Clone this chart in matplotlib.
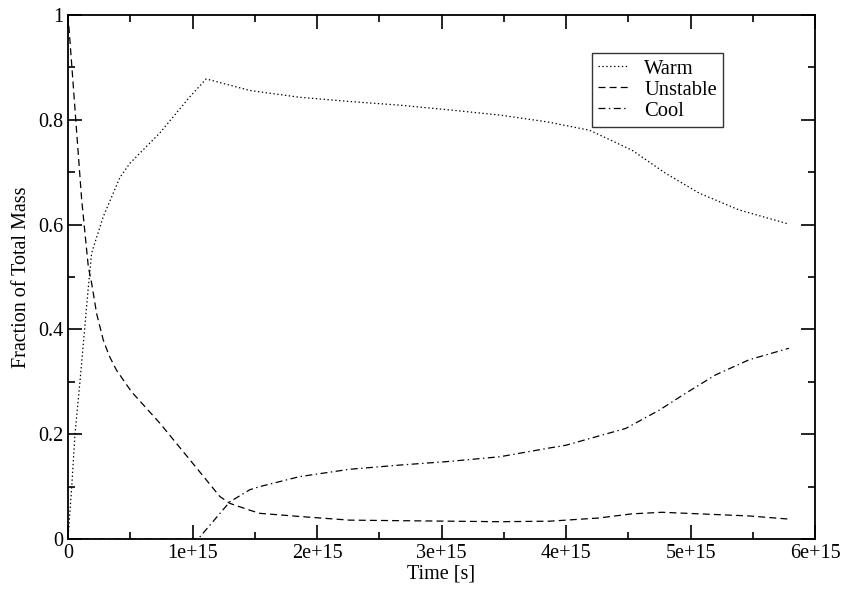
import matplotlib

matplotlib.use("Agg")
import matplotlib.pyplot as plt
from matplotlib.ticker import FixedLocator, MultipleLocator

# time in units of 1e15 s
warm_t = [0.0, 0.03, 0.056, 0.096, 0.163, 0.19, 0.283, 0.417, 0.497, 0.738, 0.979,
          1.11, 1.46, 1.86, 2.26, 2.66, 3.06, 3.47, 3.85, 4.19, 4.53, 4.80, 5.07,
          5.39, 5.79]
warm_f = [0.0, 0.10, 0.20, 0.30, 0.48, 0.546, 0.615, 0.69, 0.717, 0.775, 0.844,
          0.878, 0.856, 0.843, 0.835, 0.828, 0.819, 0.809, 0.796, 0.78, 0.742,
          0.698, 0.66, 0.628, 0.601]

unstable_t = [0.0, 0.043, 0.07, 0.11, 0.163, 0.19, 0.23, 0.283, 0.33, 0.39, 0.51,
              0.738, 1.0, 1.22, 1.30, 1.46, 1.54, 1.86, 2.26, 3.06, 3.47, 3.87, 4.0,
              4.26, 4.53, 4.77, 5.07, 5.47, 5.79]
unstable_f = [1.0, 0.863, 0.775, 0.647, 0.52, 0.488, 0.43, 0.38, 0.35, 0.322, 0.281,
              0.221, 0.145, 0.081, 0.068, 0.055, 0.049, 0.043, 0.036, 0.034, 0.033,
              0.034, 0.036, 0.040, 0.048, 0.051, 0.048, 0.044, 0.038]

cool_t = [0.0, 0.5, 1.045, 1.30, 1.46, 1.54, 1.86, 2.26, 2.66, 3.06, 3.47, 3.85,
          4.0, 4.48, 4.75, 4.94, 5.20, 5.47, 5.79]
cool_f = [0.0, 0.0, 0.0, 0.071, 0.094, 0.10, 0.119, 0.133, 0.141, 0.148, 0.157,
          0.173, 0.179, 0.211, 0.246, 0.275, 0.313, 0.342, 0.364]

x_ticks = [0, 1, 2, 3, 4, 5, 6]
x_tick_labels = ["0", "1e+15", "2e+15", "3e+15", "4e+15", "5e+15", "6e+15"]
y_ticks = [0, 0.2, 0.4, 0.6, 0.8, 1.0]
y_tick_labels = ["0", "0.2", "0.4", "0.6", "0.8", "1"]

plt.rcParams["font.family"] = ["Liberation Serif", "DejaVu Serif"]
plt.rcParams["lines.scale_dashes"] = False

fig = plt.figure(figsize=(8.47, 5.91), dpi=100)
ax = fig.add_axes([68 / 847, 52 / 591, 747 / 847, 524 / 591])

ax.plot(warm_t, warm_f, color="black", lw=0.9, ls=(0, (1, 1.8)), label="Warm")
ax.plot(unstable_t, unstable_f, color="black", lw=0.9, ls=(0, (5, 3)), label="Unstable")
ax.plot(cool_t, cool_f, color="black", lw=0.9, ls=(0, (5, 2.5, 1, 2.5)), label="Cool")

ax.set_xlim(0, 6)
ax.set_ylim(0, 1)
ax.xaxis.set_major_locator(FixedLocator(x_ticks))
ax.set_xticklabels(x_tick_labels)
ax.yaxis.set_major_locator(FixedLocator(y_ticks))
ax.set_yticklabels(y_tick_labels)
ax.xaxis.set_minor_locator(MultipleLocator(0.5))
ax.yaxis.set_minor_locator(MultipleLocator(0.1))
ax.tick_params(which="both", direction="in", top=True, right=True, labelsize=14.5, width=1.2)
ax.tick_params(which="major", length=10)
ax.tick_params(which="minor", length=5)
for sp in ax.spines.values():
    sp.set_linewidth(1.3)

ax.set_xlabel("Time [s]", fontsize=14.5, labelpad=1)
ax.set_ylabel("Fraction of Total Mass", fontsize=14.5, labelpad=5)

leg = ax.legend(loc="upper left", bbox_to_anchor=(524 / 747, 1 - 38 / 524), fontsize=14.8,
                frameon=True, fancybox=False, handlelength=1.45, handletextpad=0.8,
                borderpad=0.3, labelspacing=0.08, borderaxespad=0)
leg.get_frame().set_edgecolor("black")
leg.get_frame().set_linewidth(1.0)

fig.savefig("out.png", dpi=100)
